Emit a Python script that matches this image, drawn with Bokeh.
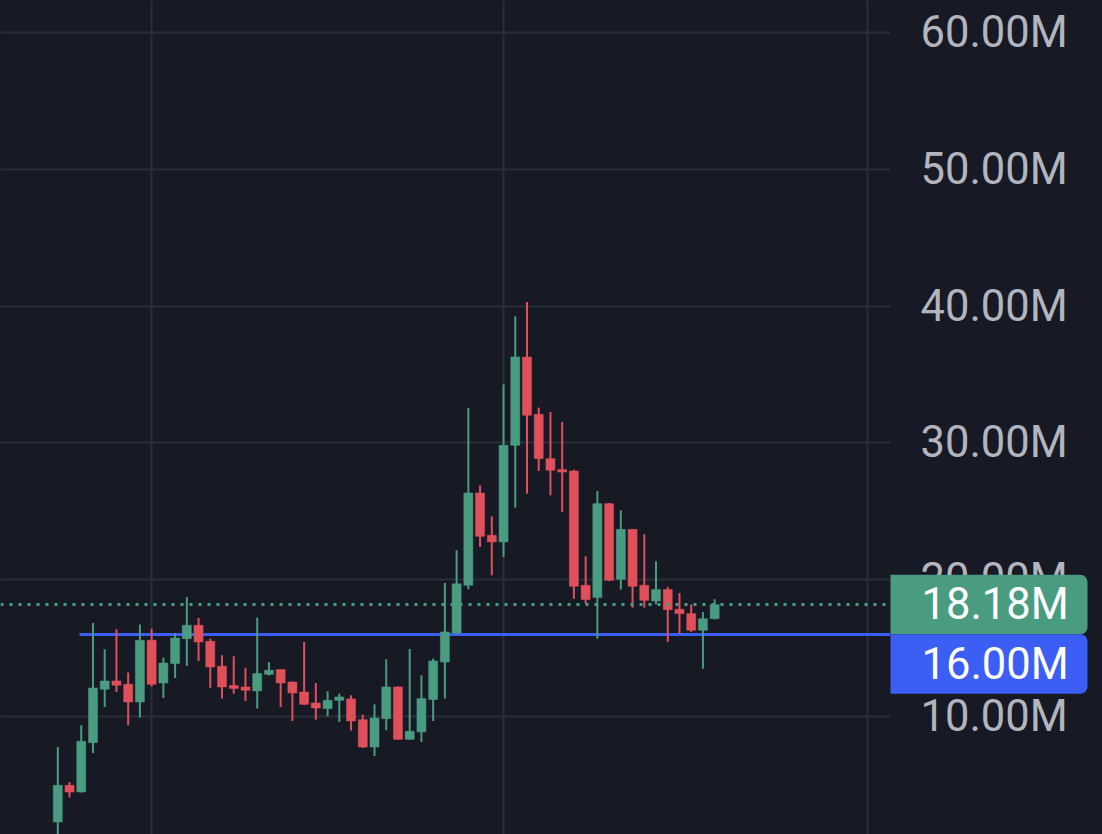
from bokeh.plotting import figure
from bokeh.layouts import row
from bokeh.models import ColumnDataSource, FixedTicker, PrintfTickFormatter, Span, Range1d
from bokeh.core.properties import value
from bokeh.embed import file_html
from bokeh.resources import INLINE

# ---- data (values in millions) ----
opens = [2.29, 4.97, 4.48, 8.09, 11.99, 12.60, 12.35, 11.06, 15.57, 12.45,
         13.87, 15.69, 16.67, 15.50, 13.67, 12.26, 12.16, 11.87, 13.08, 13.43,
         12.52, 11.79, 10.99, 10.58, 11.18, 11.29, 9.77, 7.77, 9.84, 12.16,
         8.33, 8.87, 11.24, 13.98, 16.10, 19.59, 26.34, 23.25, 22.76, 29.82,
         36.28, 32.09, 28.85, 28.05, 27.94, 19.59, 18.69, 25.56, 20.03, 23.68,
         19.59, 18.44, 19.28, 17.84, 17.52, 16.30, 17.15]
highs = [7.77, 5.21, 9.36, 16.83, 14.91, 16.37, 13.21, 16.72, 16.42, 14.30,
         16.06, 18.74, 17.20, 15.69, 14.47, 14.40, 13.57, 17.23, 13.98, 13.45,
         12.55, 15.45, 12.45, 11.84, 11.67, 11.55, 10.14, 10.89, 14.18, 12.20,
         14.94, 13.01, 14.23, 19.76, 22.15, 32.55, 26.90, 24.63, 34.28, 39.25,
         40.30, 32.58, 32.26, 31.53, 28.04, 21.71, 26.48, 25.60, 25.07, 23.70,
         23.32, 21.35, 19.47, 19.03, 18.20, 17.64, 18.57]
lows = [1.20, 4.07, 4.45, 7.33, 10.69, 11.79, 9.36, 9.92, 12.20, 11.35,
        12.81, 13.69, 14.06, 12.11, 11.31, 11.67, 11.13, 10.58, 13.00, 10.69,
        9.67, 10.85, 9.77, 10.01, 9.60, 8.98, 7.70, 7.11, 8.99, 8.30,
        8.30, 8.14, 9.67, 11.31, 16.00, 19.30, 22.39, 20.32, 21.66, 25.27,
        26.29, 27.95, 26.17, 24.95, 18.60, 18.25, 15.69, 19.90, 19.28, 17.96,
        17.96, 18.20, 15.45, 16.06, 16.18, 13.49, 17.10]
closes = [4.97, 4.48, 8.19, 12.08, 12.60, 12.28, 11.06, 15.57, 12.35, 13.91,
          15.74, 16.67, 15.45, 13.62, 12.16, 12.04, 11.92, 13.14, 13.38, 12.45,
          11.72, 10.89, 10.62, 11.18, 11.43, 9.67, 7.77, 9.89, 12.16, 8.33,
          8.92, 11.31, 14.06, 16.18, 19.70, 26.34, 23.17, 22.76, 29.82, 36.28,
          32.02, 28.85, 28.00, 27.87, 19.52, 18.55, 25.56, 19.96, 23.68, 19.52,
          18.49, 19.28, 17.81, 17.52, 16.30, 17.15, 18.18]
y_ticks = [10, 20, 30, 40, 50, 60]
month_ticks = [8, 38, 69]
last_price = 18.18
level_price = 16.00
level_start = 1.85

UP = "#4a9c80"
DOWN = "#e0505a"
BG = "#171a25"
GRID = "#2a2e39"
BLUE = "#3b5ef5"
FONT = "Roboto"
FONT_SIZE = "43.5px"

W, H = 1102, 834
CHART_W = 890
SIDE_W = W - CHART_W
Y0, Y1 = 1.374, 62.34
PX_PER_M = H / (Y1 - Y0)

idx = list(range(len(opens)))
colors = [UP if c >= o else DOWN for o, c in zip(opens, closes)]
src = ColumnDataSource(dict(
    x=idx, open=opens, high=highs, low=lows, close=closes,
    top=[max(o, c) for o, c in zip(opens, closes)],
    bottom=[min(o, c) for o, c in zip(opens, closes)],
    color=colors))

yr = Range1d(Y0, Y1)


def style(fig):
    fig.background_fill_color = BG
    fig.border_fill_color = BG
    fig.outline_line_color = None
    fig.styles = {"background-color": BG}


# ---------- main chart ----------
p = figure(width=CHART_W, height=H, output_backend="svg", toolbar_location=None,
           x_range=Range1d(-4.885, 70.99), y_range=yr,
           x_axis_location=None, y_axis_location=None,
           min_border_left=0, min_border_top=0, min_border_bottom=0, min_border_right=0)
style(p)

p.ygrid.ticker = FixedTicker(ticks=y_ticks)
p.ygrid.grid_line_color = GRID
p.ygrid.grid_line_width = 2
p.xgrid.ticker = FixedTicker(ticks=month_ticks)
p.xgrid.grid_line_color = GRID
p.xgrid.grid_line_width = 2

p.add_layout(Span(location=last_price, dimension="width", line_color=UP,
                  line_width=3, line_dash="3 6"))
p.segment(x0=[level_start], y0=[level_price], x1=[p.x_range.end], y1=[level_price],
          line_color=BLUE, line_width=3)

p.segment("x", "high", "x", "low", source=src, line_color="color", line_width=2)
p.vbar(x="x", width=0.77, top="top", bottom="bottom", source=src,
       fill_color="color", line_color="color", line_width=0.5)

# ---------- price scale (right side) ----------
s = figure(width=SIDE_W, height=H, output_backend="svg", toolbar_location=None,
           x_range=Range1d(0, SIDE_W), y_range=yr,
           x_axis_location=None, y_axis_location="right",
           min_border_left=0, min_border_top=0, min_border_bottom=0, min_border_right=0)
style(s)
s.xgrid.visible = False
s.ygrid.visible = False

ax = s.yaxis[0]
ax.ticker = FixedTicker(ticks=y_ticks)
ax.formatter = PrintfTickFormatter(format="%.2fM")
ax.axis_line_color = None
ax.major_tick_line_color = None
ax.minor_tick_line_color = None
ax.major_tick_in = 0
ax.major_tick_out = 0
ax.major_label_standoff = 30 - SIDE_W
ax.major_label_text_font = FONT
ax.major_label_text_font_size = FONT_SIZE
ax.major_label_text_color = "#b2b5be"

box_h = 59.5 / PX_PER_M
tag_src = ColumnDataSource(dict(
    top=[last_price + box_h / 2, last_price - box_h / 2],
    bottom=[last_price - box_h / 2, last_price - 1.5 * box_h],
    mid=[last_price, last_price - box_h],
    text=["%.2fM" % last_price, "%.2fM" % level_price],
    color=[UP, BLUE]))
s.quad(left=0, right=197, top="top", bottom="bottom", source=tag_src,
       fill_color="color", line_color=None, border_radius=(0, 7, 7, 0), level="overlay")
s.text(x=31, y="mid", text="text", source=tag_src, text_align="left", text_baseline="middle",
       text_font=value(FONT), text_font_size=FONT_SIZE, text_color="white", level="overlay")

layout = row(p, s)
layout.styles = {"background-color": BG}
open("out.html", "w").write(file_html(layout, INLINE))
